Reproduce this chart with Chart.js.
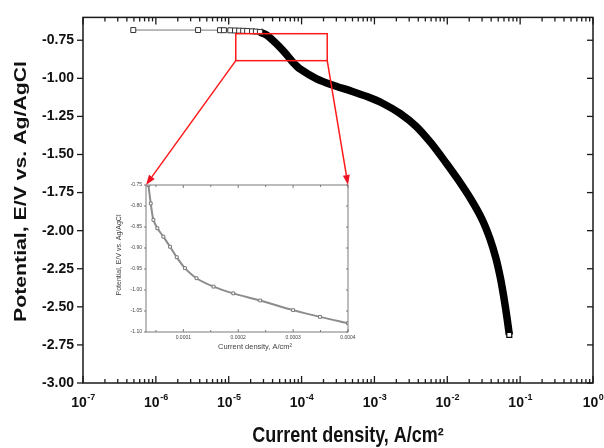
<!DOCTYPE html>
<html>
<head>
<meta charset="utf-8">
<script src="https://cdn.jsdelivr.net/npm/chart.js"></script>
<style>
  body { margin: 0; background: #fff; }
  #wrap { position: relative; width: 604px; height: 448px; }
  #wrap canvas { position: absolute; left: 0; top: 0; }
</style>
</head>
<body>
<div id="wrap">
  <canvas id="mainChart" width="604" height="448"></canvas>
  <canvas id="insetChart" width="604" height="448"></canvas>
</div>
<script>
// --- main polarisation curve (A/cm2, V vs Ag/AgCl) ---
const sparseCurrent   = [4.9e-7, 3.8e-6, 7.6e-6, 8.6e-6, 1.05e-5, 1.22e-5, 1.39e-5, 1.58e-5, 1.79e-5, 2.09e-5, 2.36e-5, 2.68e-5];
const sparsePotential = [-0.683, -0.683, -0.684, -0.684, -0.685, -0.686, -0.687, -0.688, -0.689, -0.691, -0.693, -0.696];
const denseCurrent   = [2.68e-5, 3.32e-5, 4.09e-5, 5.06e-5, 6.25e-5, 7.69e-5, 9.5e-5, 1.61e-4, 2.70e-4, 4.62e-4, 7.91e-4, 1.31e-3, 2.24e-3, 3.72e-3, 5.97e-3, 9.59e-3, 1.40e-2, 2.11e-2, 2.99e-2, 3.85e-2, 4.66e-2, 5.37e-2, 6.0e-2, 6.6e-2, 7.1e-2];
const densePotential = [-0.696, -0.716, -0.754, -0.797, -0.845, -0.897, -0.938, -1.003, -1.045, -1.081, -1.120, -1.165, -1.230, -1.314, -1.424, -1.554, -1.664, -1.794, -1.924, -2.053, -2.183, -2.313, -2.443, -2.572, -2.684];

const yTickValues = [-3.00, -2.75, -2.50, -2.25, -2.00, -1.75, -1.50, -1.25, -1.00, -0.75];
const xTickExponents = [-7, -6, -5, -4, -3, -2, -1, 0];

// zoom box drawn in red on the main plot
const zoomBoxCurrent = [1.25e-5, 2.25e-4];
const zoomBoxPotential = [-0.707, -0.884];

// --- inset (linear current axis) ---
const insetCurrent   = [3.64e-5, 4.07e-5, 4.55e-5, 5.27e-5, 6.36e-5, 7.58e-5, 8.8e-5, 1.03e-4, 1.24e-4, 1.55e-4, 1.91e-4, 2.40e-4, 3.0e-4, 3.49e-4, 4.0e-4];
const insetPotential = [-0.75, -0.794, -0.833, -0.853, -0.873, -0.897, -0.922, -0.948, -0.972, -0.992, -1.008, -1.025, -1.048, -1.064, -1.079];
const insetXTicks = [0.0001, 0.0002, 0.0003, 0.0004];
const insetXMinor = [0.00005, 0.00015, 0.00025, 0.00035];
const insetYTicks = [-1.10, -1.05, -1.00, -0.95, -0.90, -0.85, -0.80, -0.75];

const FONT = '"Liberation Sans", Arial, sans-serif';

function pts(xs, ys) {
    return xs.map((v, i) => ({ x: v, y: ys[i] }));
}

function tick(ctx, x1, y1, x2, y2) {
    ctx.beginPath();
    ctx.moveTo(x1, y1);
    ctx.lineTo(x2, y2);
    ctx.stroke();
}

function arrow(ctx, x1, y1, x2, y2) {
    const ang = Math.atan2(y2 - y1, x2 - x1);
    const len = 10, half = 3.5;
    const bx = x2 - len * Math.cos(ang), by = y2 - len * Math.sin(ang);
    tick(ctx, x1, y1, bx, by);
    ctx.beginPath();
    ctx.moveTo(x2, y2);
    ctx.lineTo(bx + half * Math.sin(ang), by - half * Math.cos(ang));
    ctx.lineTo(bx - half * Math.sin(ang), by + half * Math.cos(ang));
    ctx.closePath();
    ctx.fill();
}

// frame, ticks, log labels and titles of the main plot
const mainFrame = {
    id: 'mainFrame',
    afterDraw(chart) {
        const { ctx, chartArea: a, scales: { x, y } } = chart;
        ctx.save();
        ctx.strokeStyle = '#1a1a1a';
        ctx.lineWidth = 1.5;
        ctx.strokeRect(a.left, a.top, a.right - a.left, a.bottom - a.top);

        ctx.lineWidth = 1.3;
        yTickValues.forEach(v => {
            const py = y.getPixelForValue(v);
            tick(ctx, a.left - 6, py, a.left, py);
            tick(ctx, a.right - 6, py, a.right, py);
        });
        xTickExponents.forEach((e, i) => {
            const base = Math.pow(10, e);
            const px = x.getPixelForValue(base);
            tick(ctx, px, a.bottom, px, a.bottom - 7);
            tick(ctx, px, a.top, px, a.top + 7);
            if (i < xTickExponents.length - 1) {
                for (let k = 2; k <= 9; k++) {
                    const mx = x.getPixelForValue(k * base);
                    tick(ctx, mx, a.bottom, mx, a.bottom - 4);
                    tick(ctx, mx, a.top, mx, a.top + 4);
                }
            }
        });

        // 10^n labels
        ctx.fillStyle = '#111';
        ctx.textBaseline = 'alphabetic';
        ctx.textAlign = 'left';
        xTickExponents.forEach(e => {
            const px = x.getPixelForValue(Math.pow(10, e));
            ctx.font = 'bold 14px ' + FONT;
            const w1 = ctx.measureText('10').width;
            ctx.font = 'bold 9px ' + FONT;
            const w2 = ctx.measureText(String(e)).width;
            const sx = px - (w1 + w2) / 2;
            ctx.font = 'bold 14px ' + FONT;
            ctx.fillText('10', sx, a.bottom + 24);
            ctx.font = 'bold 9px ' + FONT;
            ctx.fillText(String(e), sx + w1 + 0.5, a.bottom + 17);
        });

        // axis titles
        ctx.textAlign = 'center';
        ctx.font = 'bold 18px ' + FONT;
        ctx.save();
        ctx.translate(348, 442);
        ctx.scale(1, 1.2);
        ctx.fillText('Current density, A/cm\u00B2', 0, 0);
        ctx.restore();

        ctx.font = 'bold 17px ' + FONT;
        ctx.save();
        ctx.translate(25.5, 191.5);
        ctx.rotate(-Math.PI / 2);
        ctx.scale(1.25, 1);
        ctx.fillText('Potential, E/V vs. Ag/AgCl', 0, 0);
        ctx.restore();
        ctx.restore();
    }
};

const mainChart = new Chart(document.getElementById('mainChart'), {
    type: 'scatter',
    data: {
        datasets: [{
            data: pts(sparseCurrent, sparsePotential),
            showLine: true,
            borderColor: '#777',
            borderWidth: 1,
            pointStyle: 'rect',
            pointRadius: 3.5,
            pointBorderColor: '#333',
            pointBackgroundColor: '#fff',
            pointBorderWidth: 1
        }, {
            data: pts(denseCurrent, densePotential),
            showLine: true,
            borderColor: '#000',
            borderWidth: 7.5,
            tension: 0.3,
            pointStyle: 'rect',
            pointRadius: c => c.dataIndex === denseCurrent.length - 1 ? 3.5 : 0,
            pointBorderColor: '#000',
            pointBackgroundColor: '#fff',
            pointBorderWidth: 1.2
        }]
    },
    options: {
        responsive: false,
        animation: false,
        devicePixelRatio: 1,
        layout: { padding: { top: 13, right: 11, left: 0, bottom: 0 } },
        plugins: { legend: { display: false }, tooltip: { enabled: false } },
        scales: {
            x: {
                type: 'logarithmic',
                min: 1e-7,
                max: 1,
                grid: { display: false, drawTicks: false },
                border: { display: false },
                ticks: { display: false },
                afterFit: s => { s.height = 65; }
            },
            y: {
                type: 'linear',
                min: -3,
                max: -0.6,
                grid: { display: false, drawTicks: false },
                border: { display: false },
                afterBuildTicks: s => { s.ticks = yTickValues.map(v => ({ value: v })); },
                ticks: {
                    padding: 9,
                    color: '#111',
                    font: { family: FONT, size: 14, weight: 'bold' },
                    callback: v => v.toFixed(2)
                },
                afterFit: s => { s.width = 83; }
            }
        }
    },
    plugins: [mainFrame]
});

// inset frame + red zoom box and arrows
const insetFrame = {
    id: 'insetFrame',
    afterDraw(chart) {
        const { ctx, chartArea: a, scales: { x, y } } = chart;
        ctx.save();
        ctx.strokeStyle = '#7a7a7a';
        ctx.lineWidth = 1;
        ctx.strokeRect(a.left, a.top, a.right - a.left, a.bottom - a.top);
        insetYTicks.forEach(v => {
            const py = y.getPixelForValue(v);
            tick(ctx, a.left - 2, py, a.left, py);
            tick(ctx, a.right - 2, py, a.right, py);
        });
        insetXTicks.forEach(v => {
            const px = x.getPixelForValue(v);
            tick(ctx, px, a.bottom, px, a.bottom - 3);
            tick(ctx, px, a.top, px, a.top + 3);
        });
        insetXMinor.forEach(v => {
            const px = x.getPixelForValue(v);
            tick(ctx, px, a.bottom, px, a.bottom - 2);
            tick(ctx, px, a.top, px, a.top + 2);
        });

        ctx.fillStyle = '#444';
        ctx.textAlign = 'center';
        ctx.font = '7.5px ' + FONT;
        ctx.fillText('Current density, A/cm\u00B2', 255, 349);
        ctx.font = '7px ' + FONT;
        ctx.save();
        ctx.translate(121, 255);
        ctx.rotate(-Math.PI / 2);
        ctx.fillText('Potential, E/V vs. Ag/AgCl', 0, 0);
        ctx.restore();

        // red zoom box on the main plot
        const mx = mainChart.scales.x, my = mainChart.scales.y;
        const bl = mx.getPixelForValue(zoomBoxCurrent[0]);
        const br = mx.getPixelForValue(zoomBoxCurrent[1]);
        const bt = my.getPixelForValue(zoomBoxPotential[0]);
        const bb = my.getPixelForValue(zoomBoxPotential[1]);
        ctx.strokeStyle = '#ff1a1a';
        ctx.fillStyle = '#ee1122';
        ctx.lineWidth = 1.5;
        ctx.strokeRect(bl, bt, br - bl, bb - bt);
        arrow(ctx, bl, bb, a.left, a.top);
        arrow(ctx, br, bb, a.right, a.top);
        ctx.restore();
    }
};

new Chart(document.getElementById('insetChart'), {
    type: 'scatter',
    data: {
        datasets: [{
            data: pts(insetCurrent, insetPotential),
            showLine: true,
            borderColor: '#8c8c8c',
            borderWidth: 2,
            tension: 0.3,
            pointStyle: 'rect',
            pointRadius: 2,
            pointBorderColor: '#7a7a7a',
            pointBackgroundColor: '#fff',
            pointBorderWidth: 1
        }]
    },
    options: {
        responsive: false,
        animation: false,
        devicePixelRatio: 1,
        events: [],
        layout: { padding: { top: 185, left: 116, right: 256, bottom: 102 } },
        plugins: { legend: { display: false }, tooltip: { enabled: false } },
        scales: {
            x: {
                type: 'linear',
                min: 3.2e-5,
                max: 4e-4,
                grid: { display: false, drawTicks: false },
                border: { display: false },
                afterBuildTicks: s => { s.ticks = insetXTicks.map(v => ({ value: v })); },
                ticks: {
                    padding: 3,
                    color: '#444',
                    maxRotation: 0,
                    autoSkip: false,
                    font: { family: FONT, size: 5 },
                    callback: v => v.toFixed(4)
                },
                afterFit: s => { s.height = 14; }
            },
            y: {
                type: 'linear',
                min: -1.10,
                max: -0.75,
                grid: { display: false, drawTicks: false },
                border: { display: false },
                afterBuildTicks: s => { s.ticks = insetYTicks.map(v => ({ value: v })); },
                ticks: {
                    padding: 4,
                    color: '#444',
                    font: { family: FONT, size: 5 },
                    callback: v => v.toFixed(2)
                },
                afterFit: s => { s.width = 30; }
            }
        }
    },
    plugins: [insetFrame]
});
</script>
</body>
</html>
